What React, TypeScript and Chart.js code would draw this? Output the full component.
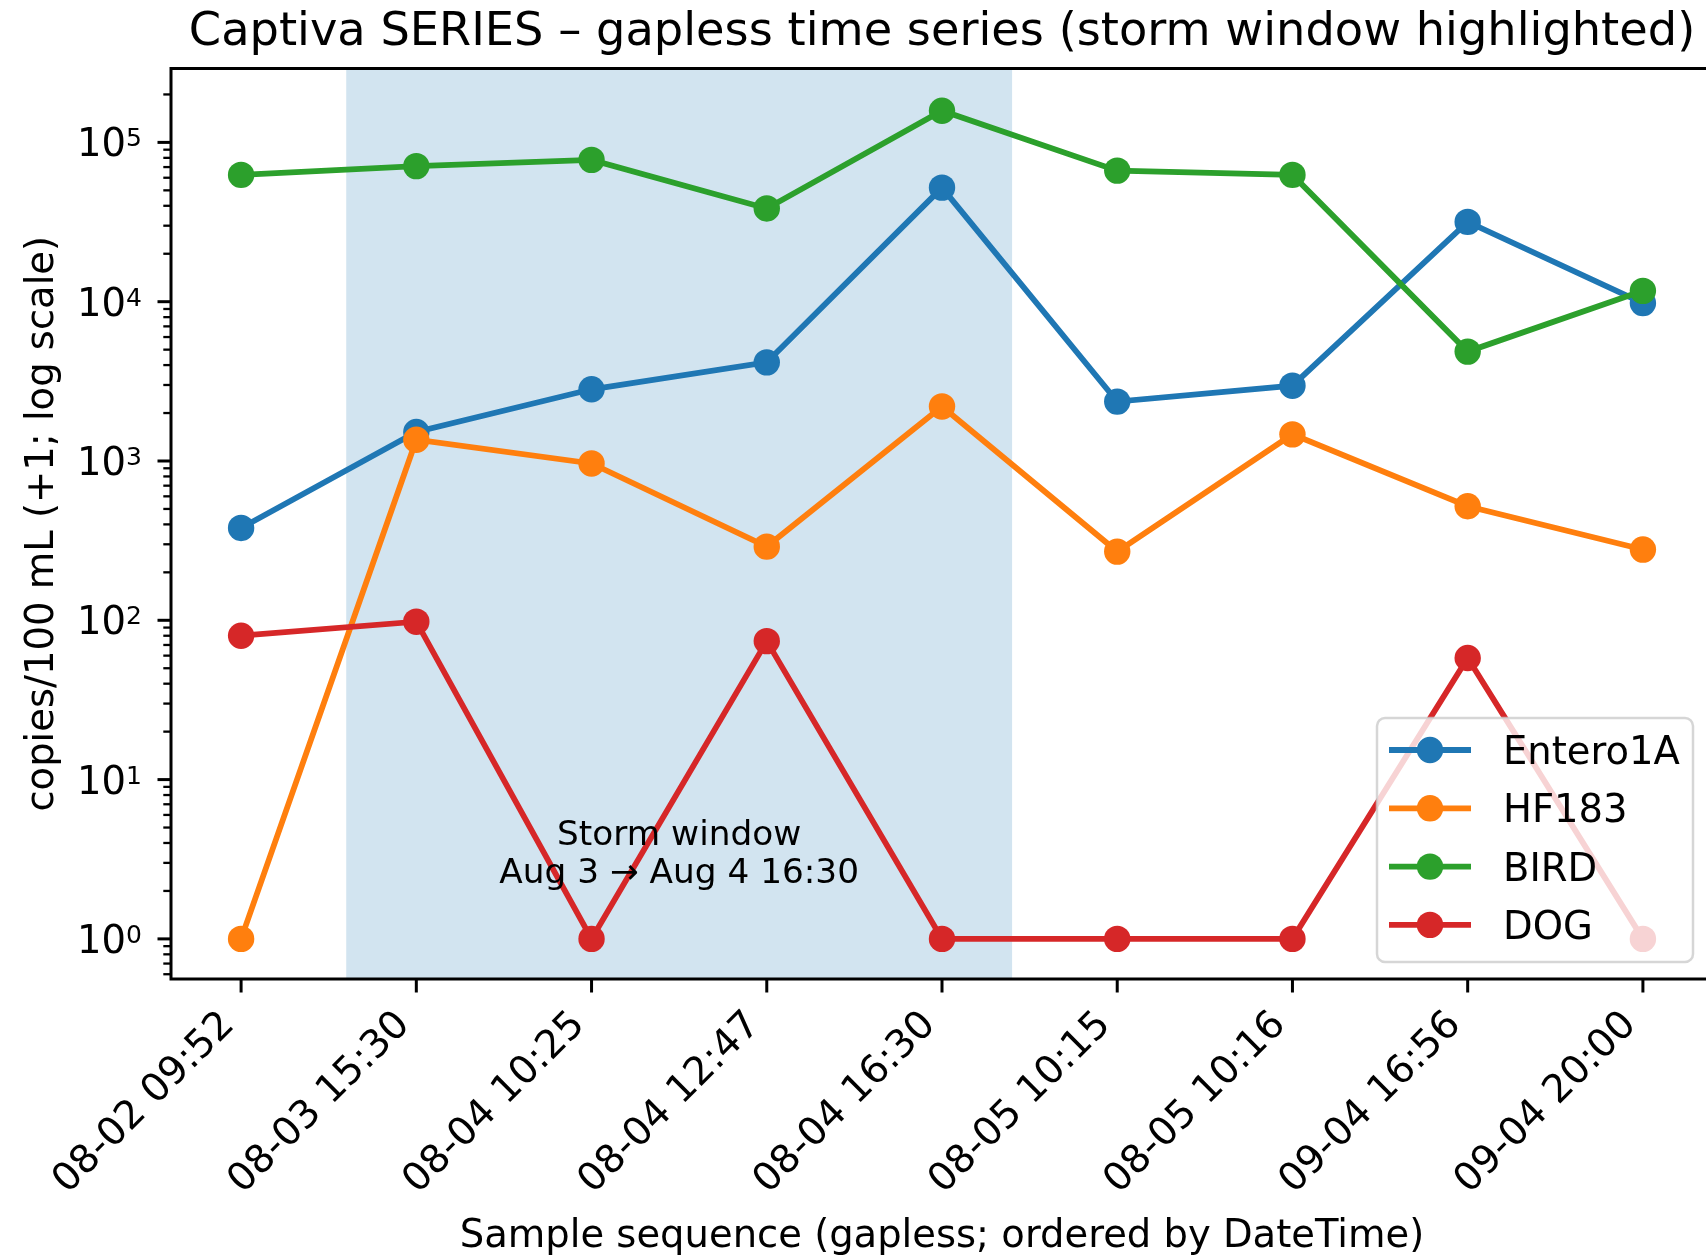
import React, { useEffect, useRef } from 'react';
import { Chart, registerables } from 'chart.js';

Chart.register(...registerables);

const TITLE = 'Captiva SERIES – gapless time series (storm window highlighted)';
const X_TITLE = 'Sample sequence (gapless; ordered by DateTime)';
const Y_TITLE = 'copies/100 mL (+1; log scale)';

const CATEGORIES = [
  '08-02 09:52',
  '08-03 15:30',
  '08-04 10:25',
  '08-04 12:47',
  '08-04 16:30',
  '08-05 10:15',
  '08-05 10:16',
  '09-04 16:56',
  '09-04 20:00',
];

const ENTERO1A = [380, 1520, 2820, 4160, 52000, 2360, 2970, 31700, 9800];
const HF183 = [1, 1360, 965, 290, 2200, 270, 1470, 520, 278];
const BIRD = [62500, 71000, 77700, 38500, 158000, 66500, 62500, 4860, 11700];
const DOG = [80, 98, 1, 74, 1, 1, 1, 58, 1];

const SERIES_NAMES = ['Entero1A', 'HF183', 'BIRD', 'DOG'];
const SERIES_VALUES = [ENTERO1A, HF183, BIRD, DOG];
const SERIES_COLORS = ['#1f77b4', '#ff7f0e', '#2ca02c', '#d62728'];

const Y_MAJOR_EXPONENTS = [0, 1, 2, 3, 4, 5];
const Y_MINOR_MULTIPLIERS = [2, 3, 4, 5, 6, 7, 8, 9];
const Y_MIN = 0.56;
const Y_MAX = 291000;
const X_MIN = -0.4;
const X_MAX = 8.4;

const STORM_START = 0.6;
const STORM_END = 4.4;
const STORM_LABEL = ['Storm window', 'Aug 3 → Aug 4 16:30'];
const STORM_LABEL_Y = 3.5;

const CANVAS_W = 1730;
const CANVAS_H = 1258;
const FONT = "'DejaVu Sans', 'Noto Sans', sans-serif";

const line = (ctx: CanvasRenderingContext2D, x0: number, y0: number, x1: number, y1: number) => {
  ctx.beginPath();
  ctx.moveTo(x0, y0);
  ctx.lineTo(x1, y1);
  ctx.stroke();
};

const roundRect = (ctx: CanvasRenderingContext2D, x: number, y: number, w: number, h: number, r: number) => {
  ctx.beginPath();
  ctx.moveTo(x + r, y);
  ctx.lineTo(x + w - r, y);
  ctx.arcTo(x + w, y, x + w, y + r, r);
  ctx.lineTo(x + w, y + h - r);
  ctx.arcTo(x + w, y + h, x + w - r, y + h, r);
  ctx.lineTo(x + r, y + h);
  ctx.arcTo(x, y + h, x, y + h - r, r);
  ctx.lineTo(x, y + r);
  ctx.arcTo(x, y, x + r, y, r);
  ctx.closePath();
};

const decorPlugin = {
  id: 'decor',
  beforeDraw(chart: any) {
    const { ctx } = chart;
    ctx.save();
    ctx.fillStyle = '#ffffff';
    ctx.fillRect(0, 0, chart.width, chart.height);
    ctx.restore();
  },
  beforeDatasetsDraw(chart: any) {
    const { ctx, chartArea: a, scales } = chart;
    const xs = scales.x;
    const x0 = xs.getPixelForValue(STORM_START);
    const x1 = xs.getPixelForValue(STORM_END);
    ctx.save();
    ctx.fillStyle = 'rgba(31,119,180,0.2)';
    ctx.fillRect(x0, a.top, x1 - x0, a.bottom - a.top);
    ctx.restore();
  },
  afterDatasetsDraw(chart: any) {
    const { ctx, chartArea: a, scales } = chart;
    const xs = scales.x;
    const ys = scales.y;
    ctx.save();

    // Storm annotation
    ctx.fillStyle = '#000';
    ctx.font = `34.3px ${FONT}`;
    ctx.textAlign = 'center';
    ctx.textBaseline = 'alphabetic';
    const cx = xs.getPixelForValue((STORM_START + STORM_END) / 2);
    const cy = ys.getPixelForValue(STORM_LABEL_Y);
    ctx.fillText(STORM_LABEL[0], cx, cy - 19.2 + 12);
    ctx.fillText(STORM_LABEL[1], cx, cy + 19.2 + 12);

    // Spines
    ctx.strokeStyle = '#000';
    ctx.lineWidth = 3;
    ctx.lineJoin = 'miter';
    ctx.strokeRect(a.left, a.top, a.right - a.left, a.bottom - a.top);

    // X ticks and labels
    ctx.lineWidth = 3;
    ctx.font = `39px ${FONT}`;
    CATEGORIES.forEach((lab, i) => {
      const px = xs.getPixelForValue(i);
      line(ctx, px, a.bottom, px, a.bottom + 13.5);
      ctx.save();
      ctx.translate(px, a.bottom + 22);
      ctx.rotate(-Math.PI / 4);
      ctx.textAlign = 'right';
      ctx.textBaseline = 'alphabetic';
      ctx.fillText(lab, -21.5, 14);
      ctx.restore();
    });

    // Y minor ticks
    ctx.lineWidth = 2.3;
    for (let e = -1; e <= 5; e++) {
      Y_MINOR_MULTIPLIERS.forEach((m) => {
        const v = m * Math.pow(10, e);
        if (v < Y_MIN || v > Y_MAX) return;
        const py = ys.getPixelForValue(v);
        line(ctx, a.left - 7.7, py, a.left, py);
      });
    }

    // Y major ticks and labels
    ctx.lineWidth = 3;
    Y_MAJOR_EXPONENTS.forEach((e) => {
      const py = ys.getPixelForValue(Math.pow(10, e));
      line(ctx, a.left - 13.5, py, a.left, py);
      ctx.textBaseline = 'alphabetic';
      ctx.textAlign = 'right';
      ctx.font = `25px ${FONT}`;
      const expStr = String(e);
      const expRight = a.left - 29;
      ctx.fillText(expStr, expRight, py + 4);
      const expW = ctx.measureText(expStr).width;
      ctx.font = `38.5px ${FONT}`;
      ctx.fillText('10', expRight - expW, py + 14);
    });

    // Titles
    ctx.textAlign = 'center';
    ctx.textBaseline = 'alphabetic';
    ctx.font = `46.3px ${FONT}`;
    ctx.fillText(TITLE, (a.left + a.right) / 2, 45);
    ctx.font = `38.5px ${FONT}`;
    ctx.fillText(X_TITLE, (a.left + a.right) / 2, 1247);
    ctx.save();
    ctx.translate(53, (a.top + a.bottom) / 2);
    ctx.rotate(-Math.PI / 2);
    ctx.fillText(Y_TITLE, 0, 0);
    ctx.restore();

    // Legend
    const lx = 1377, ly = 718, lw = 316, lh = 244;
    roundRect(ctx, lx, ly, lw, lh, 8);
    ctx.fillStyle = 'rgba(255,255,255,0.8)';
    ctx.fill();
    ctx.strokeStyle = 'rgba(204,204,204,0.8)';
    ctx.lineWidth = 2.5;
    ctx.stroke();
    ctx.font = `38.5px ${FONT}`;
    ctx.textAlign = 'left';
    SERIES_NAMES.forEach((name, i) => {
      const ry = 750 + i * 58.3;
      ctx.strokeStyle = SERIES_COLORS[i];
      ctx.lineWidth = 5.8;
      ctx.lineCap = 'butt';
      line(ctx, 1389, ry, 1471, ry);
      ctx.fillStyle = SERIES_COLORS[i];
      ctx.beginPath();
      ctx.arc(1430, ry, 13.2, 0, Math.PI * 2);
      ctx.fill();
      ctx.fillStyle = '#000';
      ctx.fillText(name, 1503, ry + 14);
    });

    ctx.restore();
  },
};

export default function App() {
  const ref = useRef<HTMLCanvasElement>(null);

  useEffect(() => {
    const canvas = ref.current;
    if (!canvas) return;
    const datasets = SERIES_NAMES.map((name, si) => ({
      label: name,
      data: SERIES_VALUES[si].map((v, i) => ({ x: i, y: v })),
      borderColor: SERIES_COLORS[si],
      backgroundColor: SERIES_COLORS[si],
      pointBackgroundColor: SERIES_COLORS[si],
      pointBorderColor: SERIES_COLORS[si],
      pointBorderWidth: 0,
      pointRadius: 13.2,
      pointHoverRadius: 13.2,
      borderWidth: 5.8,
      tension: 0,
      fill: false,
      order: SERIES_NAMES.length - 1 - si,
    }));
    const chart = new Chart(canvas, {
      type: 'line',
      data: { datasets },
      options: {
        animation: false,
        responsive: false,
        devicePixelRatio: 1,
        events: [],
        layout: {
          padding: { left: 171, right: CANVAS_W - 1713, top: 68.5, bottom: CANVAS_H - 979 },
        },
        scales: {
          x: { type: 'linear', min: X_MIN, max: X_MAX, display: false },
          y: { type: 'logarithmic', min: Y_MIN, max: Y_MAX, display: false },
        },
        plugins: {
          legend: { display: false },
          tooltip: { enabled: false },
          title: { display: false },
        },
      },
      plugins: [decorPlugin],
    } as any);
    return () => chart.destroy();
  }, []);

  return (
    <div
      style={{
        position: 'fixed',
        left: 0,
        top: 0,
        width: 1706,
        height: 1258,
        overflow: 'hidden',
        background: '#ffffff',
      }}
    >
      <canvas
        ref={ref}
        width={CANVAS_W}
        height={CANVAS_H}
        style={{ display: 'block', width: CANVAS_W, height: CANVAS_H }}
      />
    </div>
  );
}
